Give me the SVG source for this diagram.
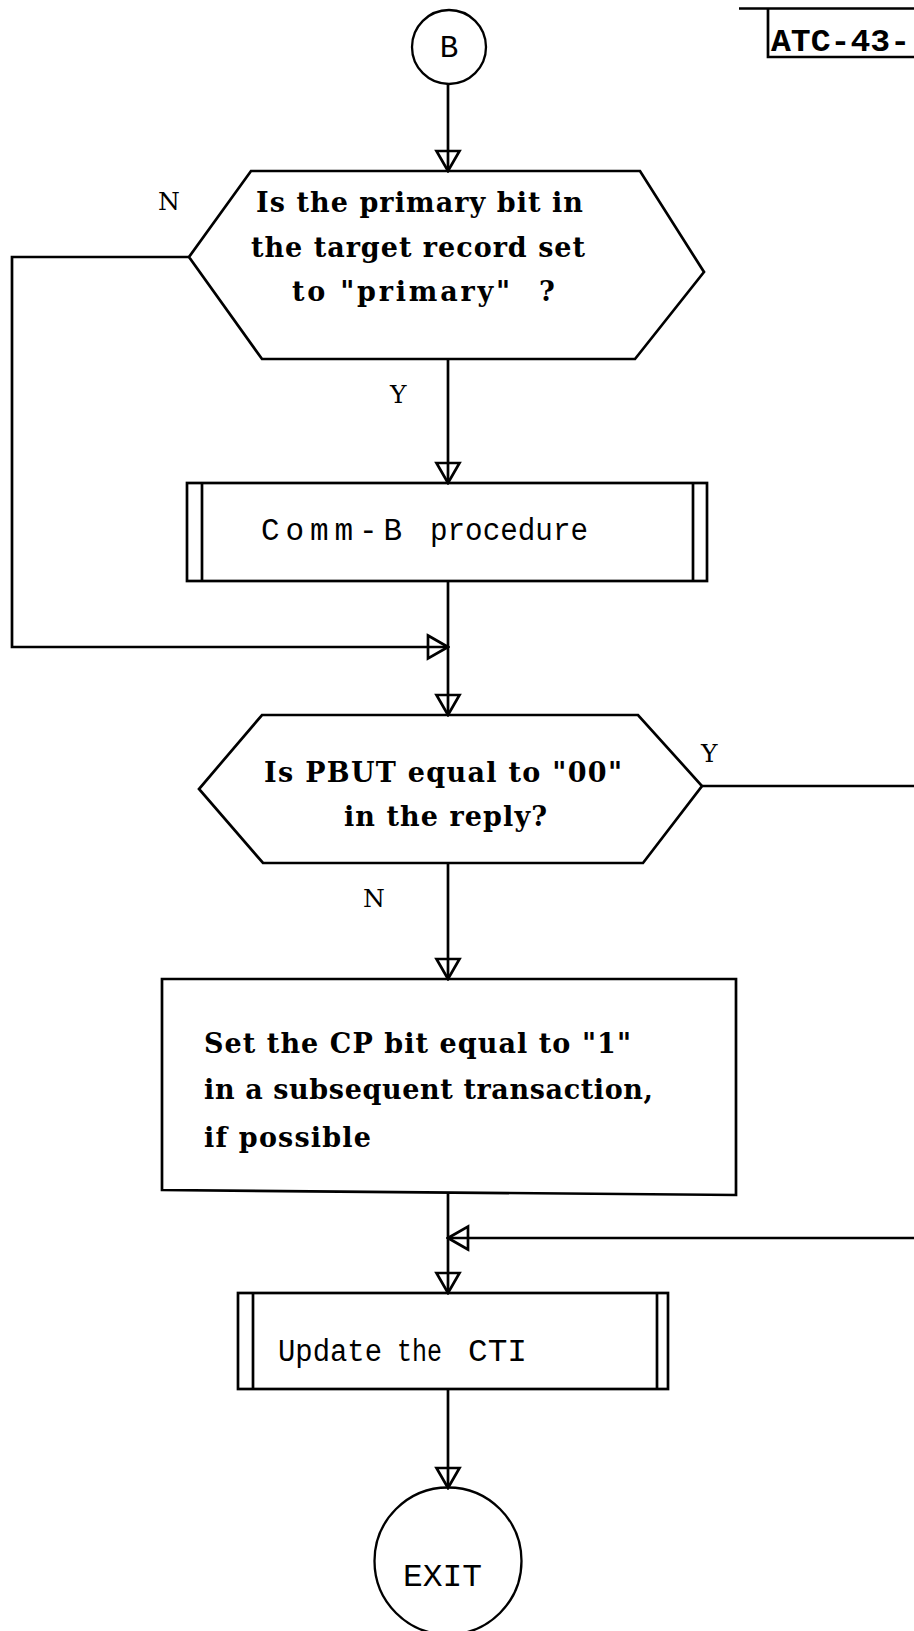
<svg xmlns="http://www.w3.org/2000/svg" width="914" height="1631" viewBox="0 0 914 1631">
<defs>
<style>
.bg{fill:#fff}
.shape{fill:none;stroke:#000;stroke-width:2.7;stroke-linejoin:miter}
.circ{fill:none;stroke:#000;stroke-width:2.3}
.line{fill:none;stroke:#000;stroke-width:2.7}
.serif{font-family:"DejaVu Serif","Liberation Serif",serif;fill:#000;font-size:27px;font-weight:bold}
.lbl{font-family:"DejaVu Serif","Liberation Serif",serif;fill:#000;font-size:25px}
.mono{font-family:"Liberation Mono","DejaVu Sans Mono",monospace;fill:#000;font-size:31px}
</style>
<marker id="ah" viewBox="-23 -14 25 28" refX="0" refY="0" markerWidth="25" markerHeight="28" markerUnits="userSpaceOnUse" orient="auto">
<path d="M-20,-11.5 L0,0 L-20,11.5 Z" fill="none" stroke="#000" stroke-width="2.7" stroke-linejoin="miter"/>
</marker>
</defs>
<rect class="bg" x="0" y="0" width="914" height="1631"/>

<g id="header">
<path class="line" d="M739,8.5 L914,8.5 M768,8.5 L768,57 L914,57" stroke-width="3"/>
<text class="mono" x="771" y="51" font-weight="bold" textLength="139" lengthAdjust="spacingAndGlyphs">ATC-43-</text>
</g>

<g id="connectors">
<path class="line" d="M448,84 L448,171" marker-end="url(#ah)"/>
<path class="line" d="M448,359 L448,483" marker-end="url(#ah)"/>
<path class="line" d="M189,257 L12,257 L12,647 L448,647" marker-end="url(#ah)"/>
<path class="line" d="M448,581 L448,715" marker-end="url(#ah)"/>
<path class="line" d="M702,786 L914,786"/>
<path class="line" d="M448,863 L448,979" marker-end="url(#ah)"/>
<path class="line" d="M448,1193 L448,1293" marker-end="url(#ah)"/>
<path class="line" d="M914,1238 L448,1238" marker-end="url(#ah)"/>
<path class="line" d="M448,1389 L448,1488" marker-end="url(#ah)"/>
</g>

<g id="start-B">
<circle class="circ" cx="449" cy="47" r="37"/>
<text class="mono" x="449" y="57" text-anchor="middle">B</text>
</g>

<g id="decision-primary">
<polygon class="shape" points="251,171 640,171 704,272 635,359 262,359 189,257"/>
<text class="serif" x="256" y="212" textLength="327" lengthAdjust="spacing">Is the primary bit in</text>
<text class="serif" x="251" y="257" textLength="334" lengthAdjust="spacing">the target record set</text>
<text class="serif" x="292" y="301"><tspan textLength="218" lengthAdjust="spacing">to "primary"</tspan> <tspan x="539">?</tspan></text>
<text class="lbl" x="158" y="210">N</text>
<text class="lbl" x="390" y="403">Y</text>
</g>

<g id="commb">
<rect class="shape" x="187" y="483" width="520" height="98"/>
<path class="shape" d="M202,483 L202,581 M693,483 L693,581"/>
<text class="mono" x="261" y="540"><tspan textLength="141" lengthAdjust="spacing">Comm-B</tspan> <tspan x="430" textLength="158" lengthAdjust="spacingAndGlyphs">procedure</tspan></text>
</g>

<g id="decision-pbut">
<polygon class="shape" points="262,715 638,715 702,786 643,863 263,863 199,789"/>
<text class="serif" x="264" y="782" textLength="358" lengthAdjust="spacing">Is PBUT equal to "00"</text>
<text class="serif" x="344" y="826" textLength="203" lengthAdjust="spacing">in the reply?</text>
<text class="lbl" x="701" y="762">Y</text>
<text class="lbl" x="363" y="907">N</text>
</g>

<g id="set-cp">
<polygon class="shape" points="162,979 736,979 736,1195 162,1190"/>
<text class="serif" x="204" y="1053" textLength="427" lengthAdjust="spacing">Set the CP bit equal to "1"</text>
<text class="serif" x="204" y="1099" textLength="449" lengthAdjust="spacing">in a subsequent transaction,</text>
<text class="serif" x="204" y="1147" textLength="167" lengthAdjust="spacing">if possible</text>
</g>

<g id="update-cti">
<rect class="shape" x="238" y="1293" width="430" height="96"/>
<path class="shape" d="M253,1293 L253,1389 M657,1293 L657,1389"/>
<text class="mono" x="278" y="1361"><tspan textLength="104" lengthAdjust="spacingAndGlyphs">Update</tspan> <tspan x="397" textLength="45" lengthAdjust="spacingAndGlyphs">the</tspan> <tspan x="468" textLength="59" lengthAdjust="spacingAndGlyphs">CTI</tspan></text>
</g>

<g id="exit">
<circle class="circ" cx="448" cy="1561" r="73.5"/>
<text class="mono" x="403" y="1586" textLength="79" lengthAdjust="spacingAndGlyphs">EXIT</text>
</g>
</svg>
